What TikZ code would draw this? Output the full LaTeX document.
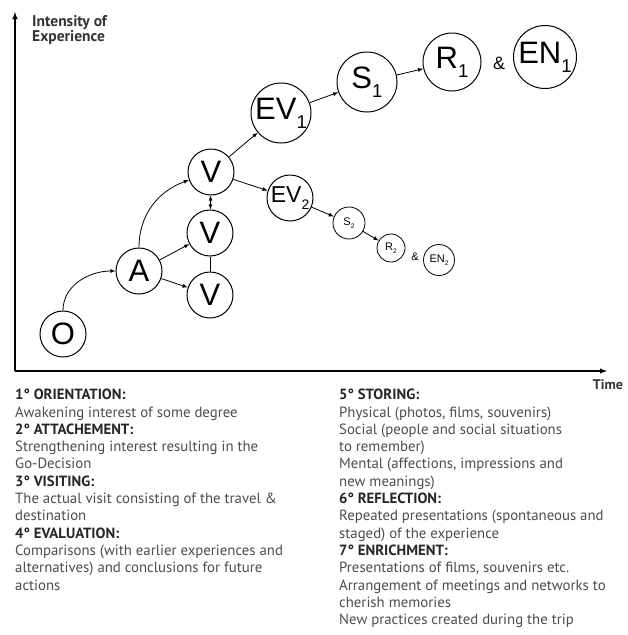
\documentclass[tikz,border=0pt]{standalone}
\usepackage{fontspec}
\setmainfont{Liberation Sans}
\newfontfamily\capfont{PT Sans}
\usepackage{tikz}
\tikzstyle{stage}=[circle, draw, line width=1pt, inner sep=0pt, minimum size=46pt, font=\fontsize{31}{31}\selectfont]
\tikzstyle{bigstage}=[stage, minimum size=60pt, font=\fontsize{31}{31}\selectfont]
\tikzstyle{midstage}=[stage, minimum size=46pt, font=\fontsize{23}{23}\selectfont]
\tikzstyle{smallstage}=[stage, minimum size=30pt, line width=0.8pt, font=\fontsize{11}{11}\selectfont]
\tikzstyle{amp}=[inner sep=0pt, font=\fontsize{18}{18}\selectfont]
\tikzstyle{edge}=[line width=0.8pt]
\tikzstyle{dedge}=[edge,-latex]
\tikzstyle{axis}=[line width=1.4pt,-latex]
\tikzstyle{labelsty}=[inner sep=0pt, align=left, text=black!80, font=\capfont\bfseries\fontsize{15.5}{13.5}\selectfont]
\tikzstyle{notesty}=[inner sep=0pt, align=left, text=black!70, font=\capfont\fontsize{14.8}{17.3}\selectfont]
\newcommand{\idx}[1]{\raisebox{-0.3em}{\scalebox{0.6}{#1}}}
\newcommand{\head}[1]{{\bfseries\color{black!85}#1}}

\begin{document}
\begin{tikzpicture}[x=1pt,y=-1pt]
	\useasboundingbox (0,0) rectangle (627,635);

	% axes
	\coordinate (orig) at (15,371);
	\coordinate (ytop) at (15,12);
	\coordinate (xend) at (607,371);
	\draw[axis] (orig) -- (ytop);
	\draw[axis] (orig) -- (xend);
	\node[labelsty,anchor=north west] (ylab) at (32,15) {Intensity of\\Experience};
	\node[labelsty,font=\capfont\bfseries\fontsize{14}{14}\selectfont] (xlab) at (608,385) {Time};

	% stages
	\node[stage] (o) at (63,334) {O};
	\node[stage] (a) at (139,271) {A};
	\node[stage] (vt) at (211,172) {V};
	\node[stage] (vm) at (210,233) {V};
	\node[stage] (vb) at (210,295) {V};
	\node[bigstage] (ev1) at (281,113) {EV\idx{1}};
	\node[bigstage] (s1) at (367,82) {S\idx{1}};
	\node[bigstage, minimum size=58pt] (r1) at (452,62) {R\idx{1}};
	\node[amp] (and1) at (499,63) {\&};
	\node[bigstage, minimum size=63pt] (en1) at (545,57) {EN\idx{1}};
	\node[midstage] (ev2) at (290,198) {EV\idx{2}};
	\node[smallstage, minimum size=32pt] (s2) at (349,223) {S\idx{2}};
	\node[smallstage, minimum size=28pt] (r2) at (391,248) {R\idx{2}};
	\node[amp, font=\fontsize{11}{11}\selectfont] (and2) at (415,257) {\&};
	\node[smallstage, minimum size=31pt] (en2) at (439,260) {EN\idx{2}};

	\draw[dedge] (o) to [out=90,in=180] (a);
	\draw[dedge] (a) to [out=90,in=200] (vt);
	\draw[dedge] (a) -- (vm);
	\draw[dedge] (a) -- (vb);
	\draw[edge,latex-latex] (vt) -- (vm);
	\draw[edge] (vm) -- (vb);
	\draw[dedge] (vt) -- (ev1);
	\draw[dedge] (vt) -- (ev2);
	\draw[dedge] (ev1) -- (s1);
	\draw[dedge] (s1) -- (r1);
	\draw[dedge] (ev2) -- (s2);
	\draw[dedge] (s2) -- (r2);

	% notes
	\node[notesty,anchor=north west] (left) at (15,389) {%
\head{1° ORIENTATION:}\\
Awakening interest of some degree\\
\head{2° ATTACHEMENT:}\\
Strengthening interest resulting in the\\
Go-Decision\\
\head{3° VISITING:}\\
The actual visit consisting of the travel \&\\
destination\\
\head{4° EVALUATION:}\\
Comparisons (with earlier experiences and\\
alternatives) and conclusions for future\\
actions};
	\node[notesty,anchor=north west] (right) at (339,389) {%
\head{5° STORING:}\\
Physical (photos, films, souvenirs)\\
Social (people and social situations\\
to remember)\\
Mental (affections, impressions and\\
new meanings)\\
\head{6° REFLECTION:}\\
Repeated presentations (spontaneous and\\
staged) of the experience\\
\head{7° ENRICHMENT:}\\
Presentations of films, souvenirs etc.\\
Arrangement of meetings and networks to\\
cherish memories\\
New practices created during the trip};
\end{tikzpicture}
\end{document}
